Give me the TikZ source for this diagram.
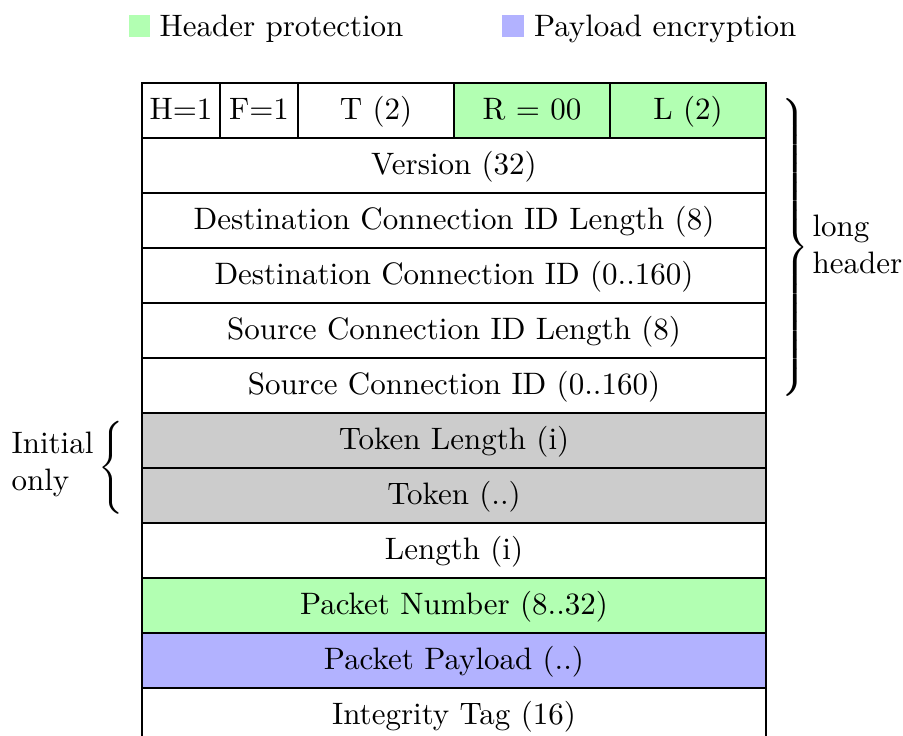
\documentclass[tikz,border=0pt]{standalone}
\begin{document}
\begin{tikzpicture}[x=0.3226pt, y=-0.3226pt,
  cell/.style={draw, inner sep=0pt, outer sep=0pt, minimum height=17.74pt,
               text height=8.3pt, text depth=2.5pt},
  full/.style={cell, minimum width=201.3pt},
  eighth/.style={cell, minimum width=25.16pt},
  quarter/.style={cell, minimum width=50.32pt},
  hp/.style={fill=green!30},
  pe/.style={fill=blue!30},
  init/.style={fill=black!20},
  swatch/.style={inner sep=0pt, minimum size=6.94pt},
  lbl/.style={inner sep=0pt, anchor=base west}]
\useasboundingbox (0,0) rectangle (903,735);

% legend
\node[swatch, hp] (sw1) at (139.5,25.8) {};
\node[lbl] (lg1) at (159,36) {Header protection};
\node[swatch, pe] (sw2) at (513,25.8) {};
\node[lbl] (lg2) at (533.5,36) {Payload encryption};

% first word of the header
\node[eighth] (h) at (181,110.5) {H=1};
\node[eighth] (f) at (259,110.5) {F=1};
\node[quarter] (t) at (376,110.5) {T (2)};
\node[quarter, hp] (r) at (532,110.5) {R = 00};
\node[quarter, hp] (l) at (688,110.5) {L (2)};

% remaining fields
\node[full] (ver) at (454,165.5) {Version (32)};
\node[full] (dcil) at (454,220.5) {Destination Connection ID Length (8)};
\node[full] (dcid) at (454,275.5) {Destination Connection ID (0..160)};
\node[full] (scil) at (454,330.5) {Source Connection ID Length (8)};
\node[full] (scid) at (454,385.5) {Source Connection ID (0..160)};
\node[full, init] (tokl) at (454,440.5) {Token Length (i)};
\node[full, init] (tok) at (454,495.5) {Token (..)};
\node[full] (len) at (454,550.5) {Length (i)};
\node[full, hp] (pn) at (454,605.5) {Packet Number (8..32)};
\node[full, pe] (pay) at (454,660.5) {Packet Payload (..)};
\node[full] (tag) at (454,715.5) {Integrity Tag (16)};

% braces
\node[inner sep=0pt, anchor=west] (rb) at (777.5,247.5)
  {$\left.\vcenter{\hrule height 98.5pt width 0pt}\right\}$};
\node[lbl] (lh1) at (812,236.7) {long};
\node[lbl] (lh2) at (812,273) {header};

\node[inner sep=0pt, anchor=east] (lb) at (128,467.5)
  {$\left\{\vcenter{\hrule height 30.6pt width 0pt}\right.$};
\node[lbl] (io1) at (11,453) {Initial};
\node[lbl] (io2) at (11,490) {only};
\end{tikzpicture}
\end{document}
